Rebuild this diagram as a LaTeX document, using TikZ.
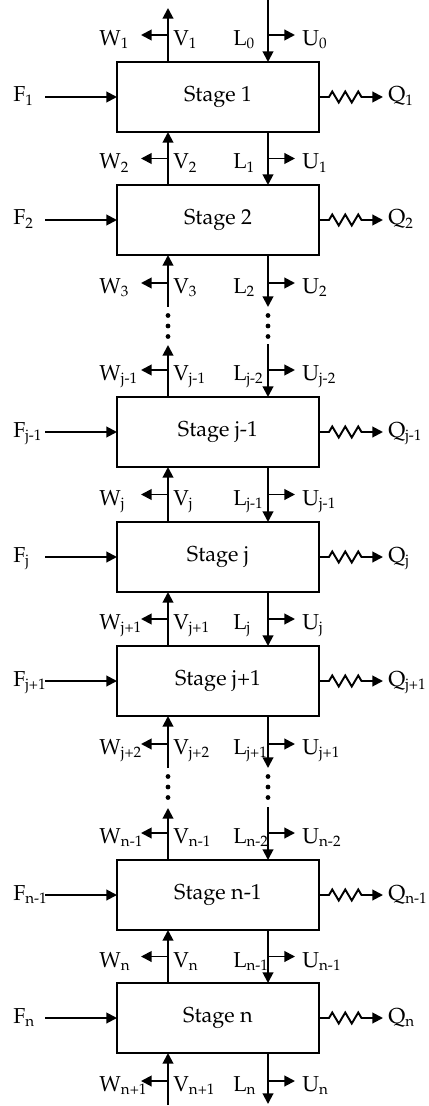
\documentclass[tikz,border=0pt]{standalone}
\usepackage[T1]{fontenc}
\usepackage{palatino}
\usetikzlibrary{arrows.meta,positioning,decorations.pathmorphing}

\tikzset{
  stagebox/.style={draw,line width=1.2pt,outer sep=0pt,minimum width=4.04cm,minimum height=1.4cm},
  flow/.style={line width=1.1pt,-{Triangle[length=6pt,width=6pt]}},
  heat/.style={flow,decorate,decoration={zigzag,segment length=0.26cm,amplitude=0.11cm,pre length=0.2cm,post length=0.34cm}},
  lab/.style={anchor=base west,inner sep=0pt},
}

\begin{document}
\begin{tikzpicture}[font=\fontsize{12.3}{14}\selectfont]
  \useasboundingbox (0,0) rectangle (8.58,-22.12);
  \node[stagebox] (s1) at (4.36,-1.94) {Stage 1};
  \node[stagebox,below=1.06cm of s1] (s2) {Stage 2};
  \node[stagebox,below=2.84cm of s2] (sjm) {Stage j-1};
  \node[stagebox,below=1.1cm of sjm] (sj) {Stage j};
  \node[stagebox,below=1.08cm of sj] (sjp) {Stage j+1};
  \node[stagebox,below=2.88cm of sjp] (snm) {Stage n-1};
  \node[stagebox,below=1.06cm of snm] (sn) {Stage n};

  \foreach \s/\k in {s1/1,s2/2,sjm/j-1,sj/j,sjp/j+1,snm/n-1,sn/n} {
    \coordinate (f-\s) at ([xshift=-1.44cm]\s.west);
    \coordinate (q-\s) at ([xshift=1.28cm]\s.east);
    \draw[flow] (f-\s) -- (\s.west);
    \draw[heat] (\s.east) -- (q-\s);
    \node[lab] (fl-\s) at ([xshift=-2.08cm,yshift=-0.1cm]\s.west) {F\textsubscript{\k}};
    \node[lab] (ql-\s) at ([xshift=1.38cm,yshift=-0.1cm]\s.east) {Q\textsubscript{\k}};
  }

  \foreach \a/\b in {s1/s2,sjm/sj,sj/sjp,snm/sn} {
    \draw[flow] ([xshift=-1cm]\b.north) -- ([xshift=-1cm]\a.south);
    \draw[flow] ([xshift=1cm]\a.south) -- ([xshift=1cm]\b.north);
  }

  \foreach \a/\b in {s2/sjm,sjp/snm} {
    \coordinate (va-\a) at ([xshift=-1cm,yshift=-1.04cm]\a.south);
    \coordinate (vb-\a) at ([xshift=-1cm,yshift=1.04cm]\b.north);
    \coordinate (la-\a) at ([xshift=1cm,yshift=-1.04cm]\a.south);
    \coordinate (lb-\a) at ([xshift=1cm,yshift=1.06cm]\b.north);
    \draw[flow] (va-\a) -- ([xshift=-1cm]\a.south);
    \draw[flow] ([xshift=-1cm]\b.north) -- (vb-\a);
    \draw[flow] ([xshift=1cm]\a.south) -- (la-\a);
    \draw[flow] (lb-\a) -- ([xshift=1cm]\b.north);
    \foreach \d in {1.21,1.42,1.63}
      \fill ([xshift=-1cm,yshift=-\d cm]\a.south) circle (0.048cm)
            ([xshift=1cm,yshift=-\d cm]\a.south) circle (0.048cm);
  }

  \coordinate (vtop) at ([xshift=-1cm,yshift=1.08cm]s1.north);
  \coordinate (ltop) at ([xshift=1cm,yshift=1.24cm]s1.north);
  \draw[flow] ([xshift=-1cm]s1.north) -- (vtop);
  \draw[flow] (ltop) -- ([xshift=1cm]s1.north);
  \coordinate (vbot) at ([xshift=-1cm,yshift=-1.04cm]sn.south);
  \coordinate (lbot) at ([xshift=1cm,yshift=-1.02cm]sn.south);
  \draw[flow] (vbot) -- ([xshift=-1cm]sn.south);
  \draw[flow] ([xshift=1cm]sn.south) -- (lbot);

  \foreach \st/\dy/\w/\v/\l/\u [count=\i] in {
      s1.north/0.54/1/1/0/0,
      s1.south/-0.53/2/2/1/1,
      s2.south/-0.56/3/3/2/2,
      sjm.north/0.54/j-1/j-1/j-2/j-2,
      sjm.south/-0.55/j/j/j-1/j-1,
      sj.south/-0.54/j+1/j+1/j/j,
      sjp.south/-0.56/j+2/j+2/j+1/j+1,
      snm.north/0.54/n-1/n-1/n-2/n-2,
      snm.south/-0.53/n/n/n-1/n-1,
      sn.south/-0.56/n+1/n+1/n/n} {
    \coordinate (v\i) at ([xshift=-1cm,yshift=\dy cm]\st);
    \coordinate (l\i) at ([xshift=1cm,yshift=\dy cm]\st);
    \coordinate (w\i) at ([xshift=-0.54cm]v\i);
    \coordinate (u\i) at ([xshift=0.54cm]l\i);
    \draw[flow] (v\i) -- (w\i);
    \draw[flow] (l\i) -- (u\i);
    \node[lab] (wl\i) at ([xshift=-1.38cm,yshift=-0.21cm]v\i) {W\textsubscript{\w}};
    \node[lab] (vl\i) at ([xshift=0.1cm,yshift=-0.21cm]v\i) {V\textsubscript{\v}};
    \node[lab] (ll\i) at ([xshift=-0.7cm,yshift=-0.21cm]l\i) {L\textsubscript{\l}};
    \node[lab] (ul\i) at ([xshift=0.68cm,yshift=-0.21cm]l\i) {U\textsubscript{\u}};
  }
\end{tikzpicture}
\end{document}
